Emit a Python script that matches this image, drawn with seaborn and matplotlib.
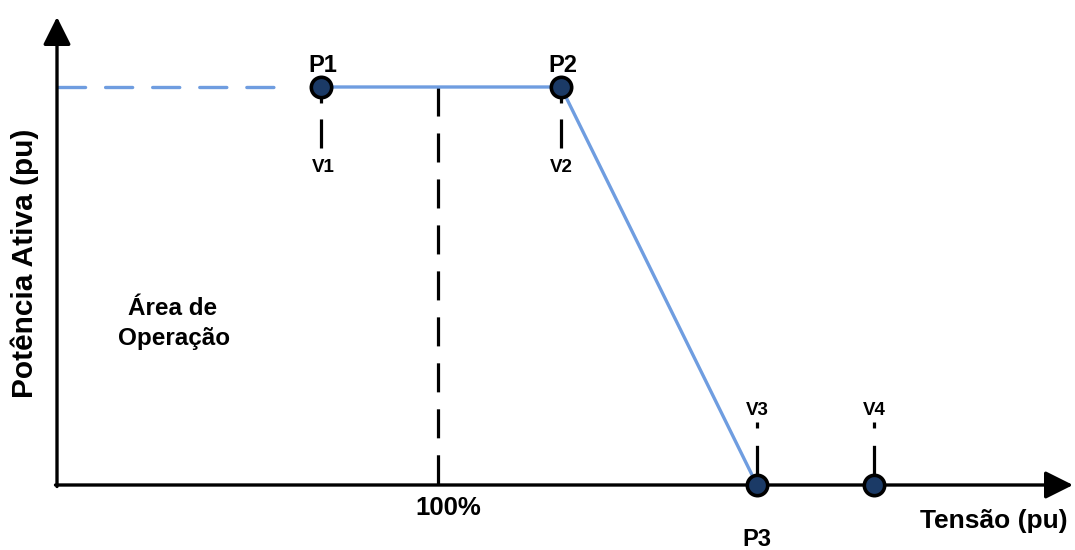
import matplotlib
matplotlib.use("Agg")
import matplotlib.pyplot as plt
import pandas as pd
import seaborn as sns

# schematic coordinates of the droop curve (drawing units, y grows downward)
origin_x, origin_y = 57, 485
power_level = 87
nominal_v = 438            # 100 %
curve_v = [321, 561, 757]  # P1, P2, P3
curve_p = [87, 87, 485]
marker_v = [321, 561, 757, 874]
marker_p = [87, 87, 485, 485]
point_labels = ["P1", "P2", "P3"]
volt_labels = ["V1", "V2", "V3", "V4"]
dash_ext_v = [58, 275]     # dashed extension of the flat part

BLUE = "#6f9de0"
NAVY = "#1b3a66"

sns.set_theme(style="white")
plt.rcParams["font.family"] = ["Liberation Sans", "DejaVu Sans"]
plt.rcParams["text.color"] = "black"
plt.rcParams["lines.scale_dashes"] = False

fig = plt.figure(figsize=(10.75, 5.5), dpi=100)
ax = fig.add_axes([0, 0, 1, 1])
ax.set_xlim(0, 1075)
ax.set_ylim(550, 0)
ax.axis("off")

# axes arrows
arrow = dict(arrowstyle="-|>,head_length=1.0,head_width=0.5", lw=2.4,
             color="black", mutation_scale=17, shrinkA=0, shrinkB=0)
ax.annotate("", xy=(origin_x, 17), xytext=(origin_x, origin_y + 1.5), arrowprops=arrow, zorder=3)
ax.annotate("", xy=(1073, origin_y), xytext=(origin_x - 1.5, origin_y), arrowprops=arrow, zorder=3)

# dashed extension and curve
ax.plot(dash_ext_v, [power_level, power_level], color=BLUE, lw=2.4,
        dashes=(19.5, 14.4), dash_capstyle="round", zorder=2)
curve = pd.DataFrame({"v": curve_v, "p": curve_p})
sns.lineplot(data=curve, x="v", y="p", sort=False, color=BLUE, lw=2.4,
             ax=ax, zorder=2, estimator=None)

# 100% dashed line
ax.plot([nominal_v, nominal_v], [power_level, origin_y], color="black", lw=2.3,
        dashes=(20.9, 12.2), zorder=1)

# voltage ticks
for v in marker_v[:2]:
    ax.plot([v, v], [power_level, 148], color="black", lw=2.3,
            dashes=(11.5, 11.5, 21, 200), zorder=1)
for v in marker_v[2:]:
    ax.plot([v, v], [422, origin_y], color="black", lw=2.3,
            dashes=(4.3, 12.5, 30, 200), zorder=1)

# points
pts = pd.DataFrame({"v": marker_v, "p": marker_p})
sns.scatterplot(data=pts, x="v", y="p", s=215, color=NAVY, edgecolor="black",
                linewidth=2.6, ax=ax, zorder=5, legend=False)

big = dict(fontsize=17, fontweight="bold", color="black")
small = dict(fontsize=13.5, fontweight="bold", color="black")

ax.text(marker_v[0] + 2, 72, point_labels[0], ha="center", va="baseline", **big)
ax.text(marker_v[1] + 2, 72, point_labels[1], ha="center", va="baseline", **big)
ax.text(marker_v[2], 546, point_labels[2], ha="center", va="baseline", **big)

ax.text(marker_v[0] + 2, 172, volt_labels[0], ha="center", va="baseline", **small)
ax.text(marker_v[1], 172, volt_labels[1], ha="center", va="baseline", **small)
ax.text(marker_v[2], 415, volt_labels[2], ha="center", va="baseline", **small)
ax.text(marker_v[3], 415, volt_labels[3], ha="center", va="baseline", **small)

ax.text(nominal_v + 10, 515, "100%", ha="center", va="baseline",
        fontsize=18.5, fontweight="bold")
ax.text(994, 528, "Tensão (pu)", ha="center", va="baseline",
        fontsize=19, fontweight="bold")
ax.text(173, 315, "Área de", ha="center", va="baseline",
        fontsize=17.5, fontweight="bold")
ax.text(174, 345, "Operação", ha="center", va="baseline",
        fontsize=17.5, fontweight="bold")
ax.text(33, 263, "Potência Ativa (pu)", rotation=90, rotation_mode="anchor",
        ha="center", va="baseline", fontsize=21.5, fontweight="bold")

fig.savefig("out.png", dpi=100)
